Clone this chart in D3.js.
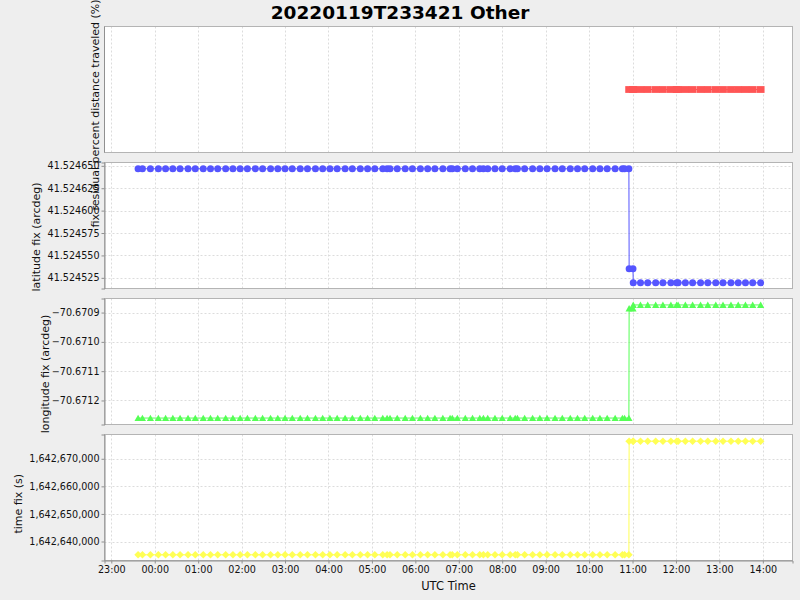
<!DOCTYPE html>
<html>
<head>
<meta charset="utf-8">
<script src="https://cdn.jsdelivr.net/npm/d3@7"></script>
<style>
  html, body { margin: 0; padding: 0; background: #eeeeee; }
  svg { display: block; }
  text { font-family: "DejaVu Sans", sans-serif; }
</style>
</head>
<body>
<svg id="chart" width="800" height="600"></svg>
<script>
// ---------------- DATA ----------------
const title = "20220119T233421 Other";
const xLabel = "UTC Time";
const panelLabels = [
  "fix residual percent distance traveled (%)",
  "latitude fix (arcdeg)",
  "longitude fix (arcdeg)",
  "time fix (s)"
];

const times = [
  "2022-01-19T23:37:00","2022-01-19T23:43:00","2022-01-19T23:54:00","2022-01-20T00:05:00",
  "2022-01-20T00:15:00","2022-01-20T00:25:00","2022-01-20T00:35:00","2022-01-20T00:46:00",
  "2022-01-20T00:56:00","2022-01-20T01:07:00","2022-01-20T01:17:00","2022-01-20T01:27:00",
  "2022-01-20T01:38:00","2022-01-20T01:48:00","2022-01-20T01:58:00","2022-01-20T02:08:00",
  "2022-01-20T02:19:00","2022-01-20T02:29:00","2022-01-20T02:40:00","2022-01-20T02:50:00",
  "2022-01-20T03:00:00","2022-01-20T03:10:00","2022-01-20T03:21:00","2022-01-20T03:31:00",
  "2022-01-20T03:42:00","2022-01-20T03:52:00","2022-01-20T04:02:00","2022-01-20T04:12:00",
  "2022-01-20T04:23:00","2022-01-20T04:33:00","2022-01-20T04:44:00","2022-01-20T04:54:00",
  "2022-01-20T05:04:00","2022-01-20T05:15:00","2022-01-20T05:21:00","2022-01-20T05:25:00",
  "2022-01-20T05:35:00","2022-01-20T05:46:00","2022-01-20T05:56:00","2022-01-20T06:07:00",
  "2022-01-20T06:17:00","2022-01-20T06:27:00","2022-01-20T06:38:00","2022-01-20T06:48:00",
  "2022-01-20T06:51:00","2022-01-20T06:58:00","2022-01-20T07:09:00","2022-01-20T07:19:00",
  "2022-01-20T07:29:00","2022-01-20T07:34:00","2022-01-20T07:40:00","2022-01-20T07:50:00",
  "2022-01-20T08:00:00","2022-01-20T08:11:00","2022-01-20T08:18:00","2022-01-20T08:21:00",
  "2022-01-20T08:31:00","2022-01-20T08:42:00","2022-01-20T08:52:00","2022-01-20T09:02:00",
  "2022-01-20T09:13:00","2022-01-20T09:23:00","2022-01-20T09:34:00","2022-01-20T09:44:00",
  "2022-01-20T09:54:00","2022-01-20T10:05:00","2022-01-20T10:15:00","2022-01-20T10:25:00",
  "2022-01-20T10:36:00","2022-01-20T10:46:00","2022-01-20T10:49:00","2022-01-20T10:55:00",
  "2022-01-20T10:55:20","2022-01-20T11:00:40","2022-01-20T11:01:00","2022-01-20T11:11:00",
  "2022-01-20T11:21:00","2022-01-20T11:32:00","2022-01-20T11:42:00","2022-01-20T11:53:00",
  "2022-01-20T12:01:00","2022-01-20T12:03:00","2022-01-20T12:13:00","2022-01-20T12:23:00",
  "2022-01-20T12:34:00","2022-01-20T12:44:00","2022-01-20T12:55:00","2022-01-20T13:05:00",
  "2022-01-20T13:16:00","2022-01-20T13:26:00","2022-01-20T13:36:00","2022-01-20T13:46:00",
  "2022-01-20T13:57:00"
];

const distanceTraveled = [
  null,null,null,null,null,null,null,null,null,null,null,null,
  null,null,null,null,null,null,null,null,null,null,null,null,
  null,null,null,null,null,null,null,null,null,null,null,null,
  null,null,null,null,null,null,null,null,null,null,null,null,
  null,null,null,null,null,null,null,null,null,null,null,null,
  null,null,null,null,null,null,null,null,null,null,null,null,
  0,0,0,0,0,0,0,0,0,0,0,0,0,0,0,0,0,0,0,0,0
];

const latitudeFix = [
  41.5246467,41.5246467,41.5246467,41.5246467,41.5246467,41.5246467,41.5246467,41.5246467,
  41.5246467,41.5246467,41.5246467,41.5246467,41.5246467,41.5246467,41.5246467,41.5246467,
  41.5246467,41.5246467,41.5246467,41.5246467,41.5246467,41.5246467,41.5246467,41.5246467,
  41.5246467,41.5246467,41.5246467,41.5246467,41.5246467,41.5246467,41.5246467,41.5246467,
  41.5246467,41.5246467,41.5246467,41.5246467,41.5246467,41.5246467,41.5246467,41.5246467,
  41.5246467,41.5246467,41.5246467,41.5246467,41.5246467,41.5246467,41.5246467,41.5246467,
  41.5246467,41.5246467,41.5246467,41.5246467,41.5246467,41.5246467,41.5246467,41.5246467,
  41.5246467,41.5246467,41.5246467,41.5246467,41.5246467,41.5246467,41.5246467,41.5246467,
  41.5246467,41.5246467,41.5246467,41.5246467,41.5246467,41.5246467,41.5246467,41.5246467,
  41.524535,41.524535,
  41.5245194,41.5245194,41.5245194,41.5245194,41.5245194,41.5245194,41.5245194,41.5245194,
  41.5245194,41.5245194,41.5245194,41.5245194,41.5245194,41.5245194,41.5245194,41.5245194,
  41.5245194,41.5245194,41.5245194
];

const longitudeFix = [
  -70.67126,-70.67126,-70.67126,-70.67126,-70.67126,-70.67126,-70.67126,-70.67126,
  -70.67126,-70.67126,-70.67126,-70.67126,-70.67126,-70.67126,-70.67126,-70.67126,
  -70.67126,-70.67126,-70.67126,-70.67126,-70.67126,-70.67126,-70.67126,-70.67126,
  -70.67126,-70.67126,-70.67126,-70.67126,-70.67126,-70.67126,-70.67126,-70.67126,
  -70.67126,-70.67126,-70.67126,-70.67126,-70.67126,-70.67126,-70.67126,-70.67126,
  -70.67126,-70.67126,-70.67126,-70.67126,-70.67126,-70.67126,-70.67126,-70.67126,
  -70.67126,-70.67126,-70.67126,-70.67126,-70.67126,-70.67126,-70.67126,-70.67126,
  -70.67126,-70.67126,-70.67126,-70.67126,-70.67126,-70.67126,-70.67126,-70.67126,
  -70.67126,-70.67126,-70.67126,-70.67126,-70.67126,-70.67126,-70.67126,-70.67126,
  -70.670886,-70.670886,
  -70.670874,-70.670874,-70.670874,-70.670874,-70.670874,-70.670874,-70.670874,-70.670874,
  -70.670874,-70.670874,-70.670874,-70.670874,-70.670874,-70.670874,-70.670874,-70.670874,
  -70.670874,-70.670874,-70.670874
];

const timeFix = [
  1642635181,1642635181,1642635181,1642635181,1642635181,1642635181,1642635181,1642635181,
  1642635181,1642635181,1642635181,1642635181,1642635181,1642635181,1642635181,1642635181,
  1642635181,1642635181,1642635181,1642635181,1642635181,1642635181,1642635181,1642635181,
  1642635181,1642635181,1642635181,1642635181,1642635181,1642635181,1642635181,1642635181,
  1642635181,1642635181,1642635181,1642635181,1642635181,1642635181,1642635181,1642635181,
  1642635181,1642635181,1642635181,1642635181,1642635181,1642635181,1642635181,1642635181,
  1642635181,1642635181,1642635181,1642635181,1642635181,1642635181,1642635181,1642635181,
  1642635181,1642635181,1642635181,1642635181,1642635181,1642635181,1642635181,1642635181,
  1642635181,1642635181,1642635181,1642635181,1642635181,1642635181,1642635181,1642635181,
  1642676377,1642676377,
  1642676377,1642676377,1642676377,1642676377,1642676377,1642676377,1642676377,1642676377,
  1642676377,1642676377,1642676377,1642676377,1642676377,1642676377,1642676377,1642676377,
  1642676377,1642676377,1642676377
];

const xDomain = ["2022-01-19T22:50:36", "2022-01-20T14:41:00"];
const yDomains = [
  [-1, 1],
  [41.5245131, 41.5246537],
  [-70.671282, -70.670852],
  [1642633116, 1642678804]
];
const yTicks = [
  [],
  [41.524525, 41.52455, 41.524575, 41.5246, 41.524625, 41.52465],
  [-70.6712, -70.6711, -70.671, -70.6709],
  [1642640000, 1642650000, 1642660000, 1642670000]
];
const yFormats = [null, ".6f", ".4f", ","];
const colors = ["#ff5555", "#5555ff", "#55ff55", "#ffff55"];
const shapes = ["square", "circle", "triangle", "diamond"];
const seriesValues = [distanceTraveled, latitudeFix, longitudeFix, timeFix];

// ---------------- LAYOUT ----------------
const svg = d3.select("#chart");
const W = 800, H = 600;
const plotLeft = 104.5, plotRight = 792.5;
const panelTop = [26.5, 162.5, 298.5, 434.5];
const panelH = 126;
const labelX = [95, 36, 45, 17.5];

const parse = d3.utcParse("%Y-%m-%dT%H:%M:%S");
const tDates = times.map(parse);

svg.append("rect").attr("width", W).attr("height", H).attr("fill", "#eeeeee");

const x = d3.scaleUtc().domain(xDomain.map(parse)).range([plotLeft, plotRight]);
const xTicks = x.ticks(d3.utcHour.every(1));

svg.append("text")
  .attr("x", 400).attr("y", 18.5)
  .attr("text-anchor", "middle")
  .attr("font-weight", "bold")
  .attr("font-size", 18.5)
  .attr("fill", "#000")
  .text(title);

function shapePath(type, cx, cy) {
  const p = d3.path();
  if (type === "square") {
    p.rect(cx - 3.9, cy - 3.4, 7.8, 6.8);
  } else if (type === "circle") {
    p.arc(cx, cy, 3.5, 0, 2 * Math.PI);
  } else if (type === "triangle") {
    p.moveTo(cx, cy - 3.4); p.lineTo(cx + 3.6, cy + 3); p.lineTo(cx - 3.6, cy + 3); p.closePath();
  } else {
    p.moveTo(cx, cy - 3.8); p.lineTo(cx + 3.8, cy); p.lineTo(cx, cy + 3.8); p.lineTo(cx - 3.8, cy); p.closePath();
  }
  return p.toString();
}

panelTop.forEach((top, i) => {
  const bottom = top + panelH;
  const y = d3.scaleLinear().domain(yDomains[i]).range([bottom, top]);
  const g = svg.append("g");

  g.append("rect")
    .attr("x", plotLeft).attr("y", top)
    .attr("width", plotRight - plotLeft).attr("height", panelH)
    .attr("fill", "#ffffff");

  g.selectAll(".vg").data(xTicks).enter().append("line")
    .attr("x1", d => Math.round(x(d)) + 0.5).attr("x2", d => Math.round(x(d)) + 0.5)
    .attr("y1", top).attr("y2", bottom)
    .attr("stroke", "#dcdcdc").attr("stroke-width", 1).attr("stroke-dasharray", "2,2");

  g.selectAll(".hg").data(yTicks[i]).enter().append("line")
    .attr("x1", plotLeft).attr("x2", plotRight)
    .attr("y1", d => Math.round(y(d)) + 0.5).attr("y2", d => Math.round(y(d)) + 0.5)
    .attr("stroke", "#dcdcdc").attr("stroke-width", 1).attr("stroke-dasharray", "2,2");

  g.append("rect")
    .attr("x", plotLeft).attr("y", top)
    .attr("width", plotRight - plotLeft).attr("height", panelH)
    .attr("fill", "none").attr("stroke", "#b4b4b4").attr("stroke-width", 1);

  if (yTicks[i].length) {
    const fmt = d3.format(yFormats[i]);
    const ya = d3.axisLeft(y).tickValues(yTicks[i]).tickFormat(fmt).tickSize(3).tickPadding(2);
    const ag = g.append("g").attr("transform", `translate(${plotLeft},0)`).call(ya);
    ag.select(".domain").attr("stroke", "#909090");
    ag.selectAll(".tick line").attr("stroke", "#909090");
    ag.selectAll(".tick text").attr("font-family", "DejaVu Sans").attr("font-size", 9.6).attr("fill", "#111");
  } else {
    g.append("line").attr("x1", plotLeft).attr("x2", plotLeft).attr("y1", top).attr("y2", bottom)
      .attr("stroke", "#909090");
  }

  const lbl = g.append("text")
    .attr("font-size", 11)
    .attr("fill", "#111")
    .attr("text-anchor", "start")
    .text(panelLabels[i]);
  const len = lbl.node().getComputedTextLength();
  const cy = top + panelH / 2 + 0.605 * len;
  lbl.attr("transform", `translate(${labelX[i] + 4},${cy}) rotate(-90)`);

  const vals = seriesValues[i];
  const pts = tDates.map((t, k) => ({ t, v: vals[k] })).filter(d => d.v !== null);
  const line = d3.line().x(d => x(d.t)).y(d => y(d.v));
  g.append("path").datum(pts)
    .attr("d", line)
    .attr("fill", "none").attr("stroke", colors[i]).attr("stroke-width", 1);
  g.selectAll(".pt").data(pts).enter().append("path")
    .attr("d", d => shapePath(shapes[i], x(d.t), y(d.v)))
    .attr("fill", colors[i]);
});

const xa = d3.axisBottom(x).tickValues(xTicks).tickFormat(d3.utcFormat("%H:%M")).tickSize(3).tickPadding(3);
const xg = svg.append("g").attr("transform", `translate(0,${panelTop[3] + panelH})`).call(xa);
xg.select(".domain").attr("stroke", "#909090");
xg.selectAll(".tick line").attr("stroke", "#909090");
xg.selectAll(".tick text").attr("font-family", "DejaVu Sans").attr("font-size", 9.6).attr("fill", "#111");

svg.append("text")
  .attr("x", (plotLeft + plotRight) / 2).attr("y", 590)
  .attr("text-anchor", "middle")
  .attr("font-size", 11.5)
  .attr("fill", "#111")
  .text(xLabel);
</script>
</body>
</html>
